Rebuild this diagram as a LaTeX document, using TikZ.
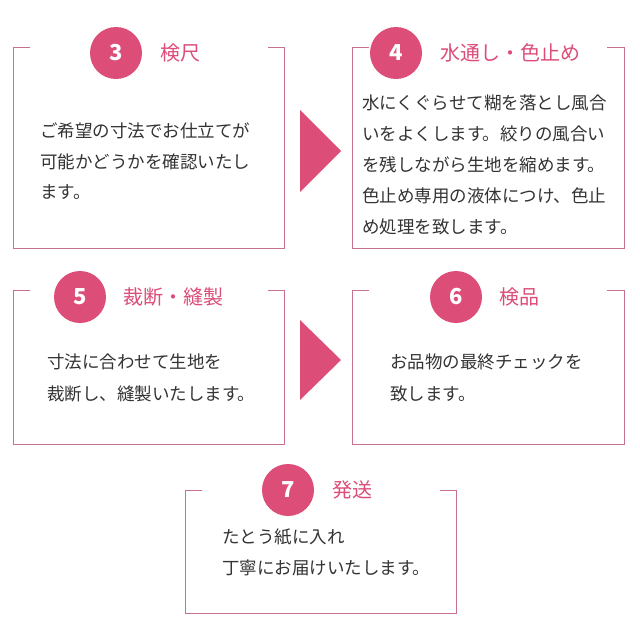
\documentclass[tikz,border=0pt]{standalone}
\usepackage{fontspec}
\newfontfamily\cjk{Noto Sans CJK JP}
\definecolor{pk}{HTML}{DC4D78}
\definecolor{bd}{HTML}{C8708F}
\definecolor{tx}{HTML}{333333}
\begin{document}
\begin{tikzpicture}[x=1pt,y=-1pt,
  frame/.style={draw=bd,line width=1pt},
  num/.style={circle,fill=pk,minimum size=52pt,inner sep=0pt,text=white,font=\cjk\bfseries\fontsize{22}{22}\selectfont},
  ttl/.style={anchor=west,text=pk,font=\cjk\fontsize{20}{20}\selectfont,inner sep=0pt},
  body/.style={anchor=west,text=tx,font=\cjk\fontsize{17.5}{17.5}\selectfont,inner sep=0pt},
  arr/.style={fill=pk}]
\useasboundingbox (0,0) rectangle (640,640);
\fill[white] (0,0) rectangle (640,640);
% boxes
\draw[frame] (30,47) -- (13,47) -- (13,248) -- (284,248) -- (284,47) -- (268,47);
\draw[frame] (369,47) -- (352,47) -- (352,248) -- (624,248) -- (624,47) -- (607,47);
\draw[frame] (30,290) -- (13,290) -- (13,444) -- (284,444) -- (284,290) -- (268,290);
\draw[frame] (369,290) -- (352,290) -- (352,444) -- (624,444) -- (624,290) -- (607,290);
\draw[frame] (202,490) -- (185,490) -- (185,613) -- (456,613) -- (456,490) -- (440,490);
% arrows
\fill[arr] (300,110) -- (341,151) -- (300,192) -- cycle;
\fill[arr] (300,320) -- (341,360) -- (300,400) -- cycle;
% headers
\node[num] (n3) at (116,53) {3};
\node[ttl] (t3) at (160,53) {検尺};
\node[num] (n4) at (396,53) {4};
\node[ttl] (t4) at (440,53) {水通し・色止め};
\node[num] (n5) at (80,297) {5};
\node[ttl] (t5) at (123,297) {裁断・縫製};
\node[num] (n6) at (456,297) {6};
\node[ttl] (t6) at (499,297) {検品};
\node[num] (n7) at (288,490) {7};
\node[ttl] (t7) at (332,490) {発送};
% bodies
\node[body] (b31) at (40,131) {ご希望の寸法でお仕立てが};
\node[body] (b32) at (40,162) {可能かどうかを確認いたし};
\node[body] (b33) at (40,192) {ます。};
\node[body] (b41) at (362,103) {水にくぐらせて糊を落とし風合};
\node[body] (b42) at (362,134) {いをよくします。絞りの風合い};
\node[body] (b43) at (362,165) {を残しながら生地を縮めます。};
\node[body] (b44) at (362,196) {色止め専用の液体につけ、色止};
\node[body] (b45) at (362,227) {め処理を致します。};
\node[body] (b51) at (47,362) {寸法に合わせて生地を};
\node[body] (b52) at (47,394) {裁断し、縫製いたします。};
\node[body] (b61) at (390,362) {お品物の最終チェックを};
\node[body] (b62) at (390,394) {致します。};
\node[body] (b71) at (222,537) {たとう紙に入れ};
\node[body] (b72) at (222,568) {丁寧にお届けいたします。};
\end{tikzpicture}
\end{document}
